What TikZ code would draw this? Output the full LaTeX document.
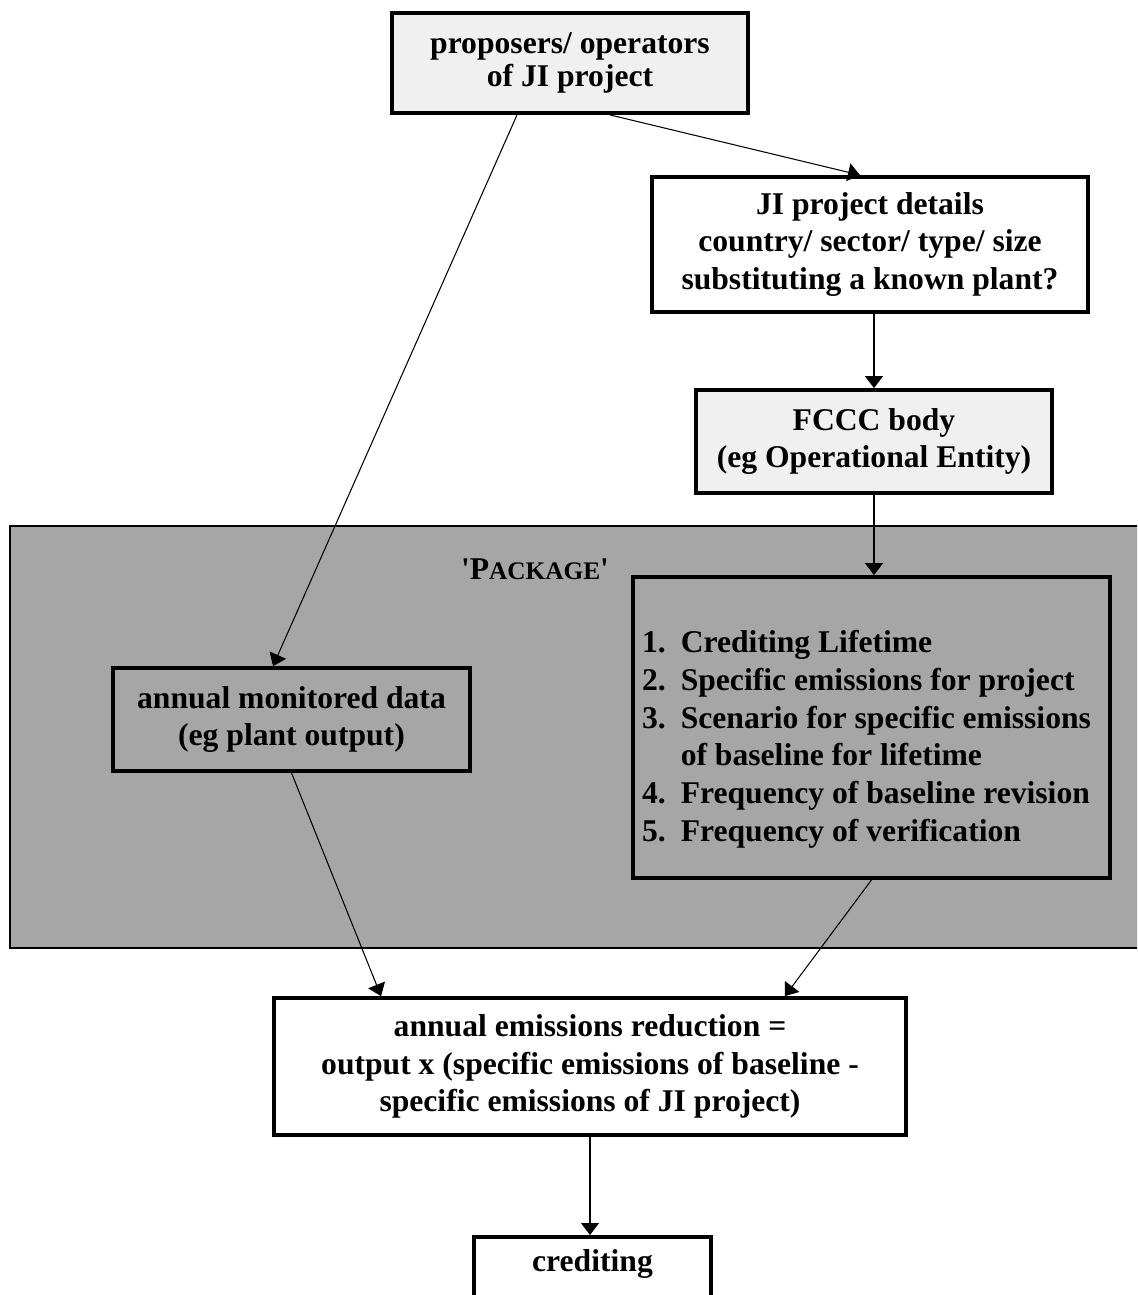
\documentclass[tikz,border=0pt]{standalone}
\usepackage{fontspec}
\newfontfamily\dfont{Liberation Serif}
\usetikzlibrary{arrows.meta}
\definecolor{lightbox}{HTML}{F0F0F0}
\definecolor{pkg}{HTML}{A6A6A6}
\begin{document}
\begin{tikzpicture}[x=0.02cm,y=-0.02cm,
  box/.style={draw=black, line width=2.2pt, align=center, inner sep=0pt,
    font=\dfont\bfseries\fontsize{18}{21.5}\selectfont},
  txt/.style={align=left, inner sep=0pt, font=\dfont\bfseries\fontsize{18}{21.5}\selectfont},
  arr/.style={-{Triangle[length=0.24cm,width=0.36cm]}, line width=0.6pt}]
\useasboundingbox (0,0) rectangle (1137,1295);
\clip (0,0) rectangle (1137,1295);
% package background
\filldraw[fill=pkg, draw=black, line width=0.6pt] (10,526) rectangle (1160,948);
\node[inner sep=0pt, font=\dfont\bfseries\fontsize{18}{21.5}\selectfont] (pkglabel) at (535,569)
  {'P{\fontsize{14.4}{17}\selectfont ACKAGE}'};
% nodes
\node[box, fill=lightbox, minimum width=7.12cm, minimum height=2.0cm,
  font=\dfont\bfseries\fontsize{18}{19}\selectfont] (top) at (570,63)
  {proposers/ operators\\of JI project};
\node[box, fill=white, minimum width=8.72cm, minimum height=2.7cm] (ji) at (870,244.5)
  {JI project details\\country/ sector/ type/ size\\substituting a known plant?};
\node[box, fill=lightbox, minimum width=7.12cm, minimum height=2.06cm] (fccc) at (874,441.5)
  {FCCC body\\(eg Operational Entity)};
\node[box, minimum width=9.54cm, minimum height=6.02cm] (list) at (871.5,727.5) {};
\node[txt] (listtxt) at ([xshift=-0.1cm,yshift=-0.24cm]list.center)
  {\begin{tabular}{@{}l@{\hspace{0.3cm}}l@{}}
   1. & Crediting Lifetime\\
   2. & Specific emissions for project\\
   3. & Scenario for specific emissions\\
      & of baseline for lifetime\\
   4. & Frequency of baseline revision\\
   5. & Frequency of verification
   \end{tabular}};
\node[box, minimum width=7.14cm, minimum height=2.06cm] (mon) at (291.5,719.5)
  {annual monitored data\\(eg plant output)};
\node[box, fill=white, minimum width=12.64cm, minimum height=2.74cm] (red) at (590,1066.5)
  {annual emissions reduction =\\output x (specific emissions of baseline -\\specific emissions of JI project)};
\node[box, fill=white, anchor=north, minimum width=4.74cm, inner ysep=0.2cm,
  text height=0.5cm, text depth=1.5cm] (cred) at (592.5,1235) {crediting};
% connectors
\draw[arr] ([xshift=0.8cm]top.south) -- ([xshift=-0.2cm]ji.north);
\draw[arr] ([xshift=-1.06cm]top.south) -- ([xshift=-0.37cm]mon.north);
\draw[arr] (fccc.north |- ji.south) -- (fccc.north);
\draw[arr] (fccc.south) -- (fccc.south |- list.north);
\draw[arr] (mon.south) -- ([xshift=-4.18cm]red.north);
\draw[arr] (list.south) -- ([xshift=3.9cm]red.north);
\draw[arr] (red.south) -- (red.south |- cred.north);
\end{tikzpicture}
\end{document}
